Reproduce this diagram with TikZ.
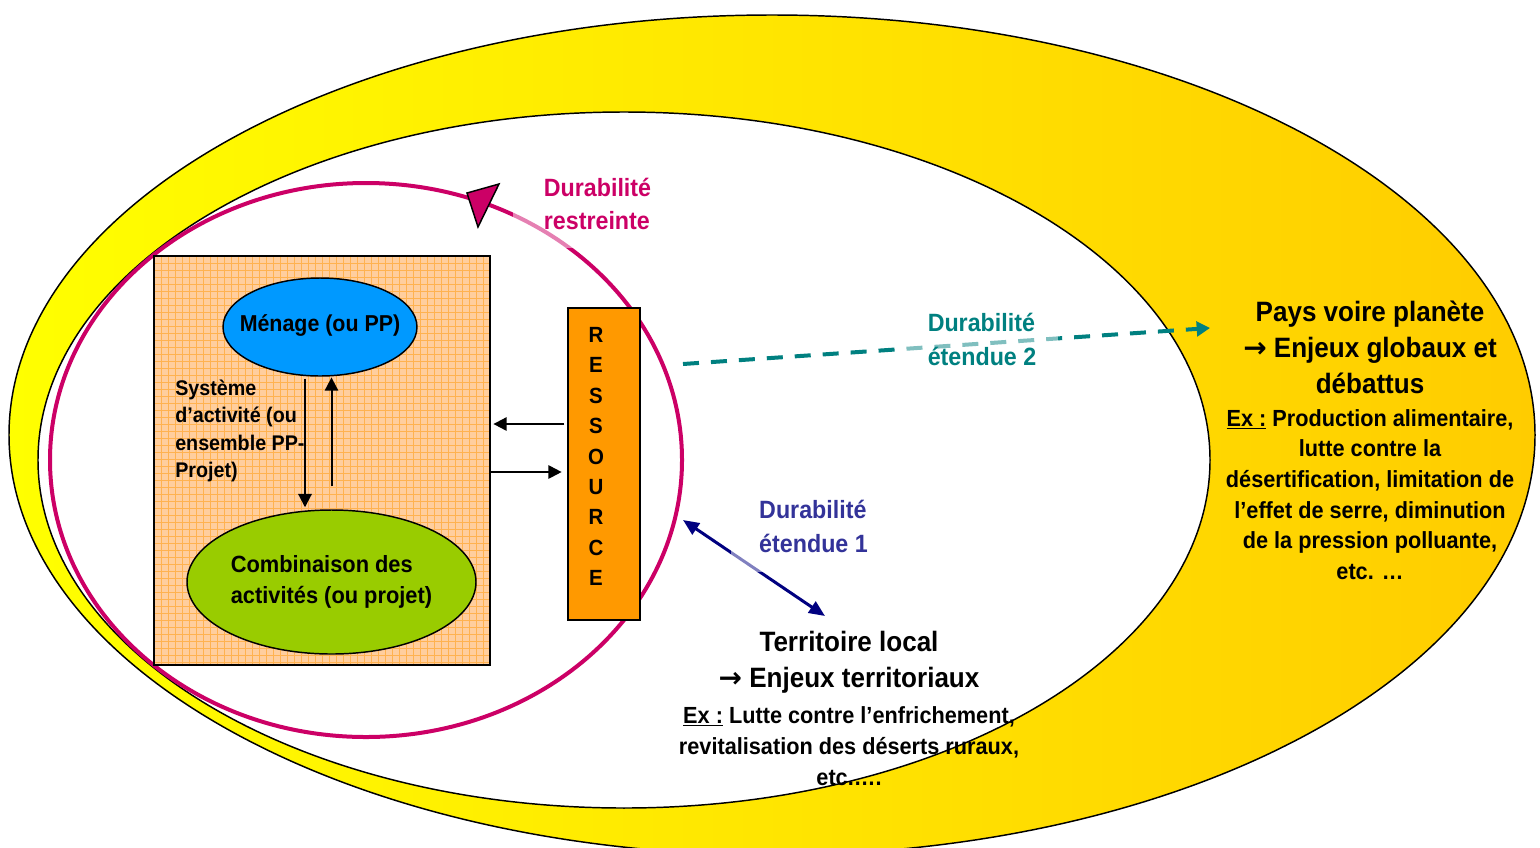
\documentclass[tikz,border=0pt]{standalone}
\usepackage{fontspec}
\setmainfont{Liberation Sans}[FakeStretch=0.93]
\newfontfamily\arrowfont{DejaVu Sans}
\usetikzlibrary{shapes.geometric,arrows.meta,calc}

\definecolor{durpink}{RGB}{204,0,102}
\definecolor{durteal}{RGB}{0,128,128}
\definecolor{durnavy}{RGB}{0,0,128}
\definecolor{durblue}{RGB}{51,51,153}
\definecolor{goldring}{RGB}{255,204,0}
\definecolor{menblue}{RGB}{0,153,255}
\definecolor{combgreen}{RGB}{153,204,0}
\definecolor{boxpeach}{RGB}{255,206,158}
\definecolor{boxgrid}{RGB}{255,178,80}
\definecolor{resorange}{RGB}{255,153,0}

\newcommand{\bigarrow}{{\arrowfont\bfseries →}}

\tikzset{
  txt/.style={inner sep=0pt, align=center},
  bigtitle/.style={txt, font=\fontsize{21pt}{27pt}\selectfont\bfseries},
  extext/.style={txt, font=\fontsize{17.5pt}{23pt}\selectfont\bfseries},
  durlabel/.style={align=left, fill=white, fill opacity=0.5, text opacity=1,
    font=\fontsize{18.75pt}{25pt}\selectfont\bfseries},
  blackarrow/.style={-{Triangle[length=10pt,width=10pt]}, line width=1.5pt, black},
  ringline/.style={draw=black, line width=1.1pt},
}

\begin{document}
\begin{tikzpicture}[x=0.75pt, y=-0.75pt]
  \useasboundingbox (0,0) rectangle (1540,847);
  \clip (0,0) rectangle (1540,847);

  % outer ring (pays / planete) and inner territory area
  \path[ringline, left color=yellow, right color=goldring]
    (772,435) ellipse [x radius=763, y radius=420];
  \path[ringline, fill=white] (624,460) ellipse [x radius=586, y radius=348];

  % restricted sustainability loop
  \node[ellipse, draw=durpink, line width=3pt, inner sep=0pt,
        minimum width=474pt, minimum height=415.5pt] (pe) at (366,460) {};
  \filldraw[fill=durpink, draw=black, line width=1.1pt, line join=miter]
    (467,193) -- (499,184) -- (478,227) -- cycle;

  % activity system box with grid texture
  \node[rectangle, draw=black, line width=1.1pt, fill=boxpeach, inner sep=0pt,
        minimum width=252pt, minimum height=306.75pt,
        path picture={
          \foreach \k in {1,...,48}
            \draw[boxgrid, line width=0.5pt]
              ([xshift=\k*5.25pt]path picture bounding box.north west) --
              ([xshift=\k*5.25pt]path picture bounding box.south west);
          \foreach \k in {1,...,59}
            \draw[boxgrid, line width=0.5pt]
              ([yshift=-\k*5.25pt]path picture bounding box.north west) --
              ([yshift=-\k*5.25pt]path picture bounding box.north east);
        }] (sys) at (322,460.5) {};

  \node[ellipse, draw=black, line width=1.1pt, fill=menblue, inner sep=0pt,
        minimum width=145.5pt, minimum height=73.5pt,
        label={[font=\fontsize{17.25pt}{21pt}\selectfont\bfseries, inner sep=0pt,
                yshift=1.5pt]center:Ménage (ou PP)}] (men) at (320,327) {};
  \node[ellipse, draw=black, line width=1.1pt, fill=combgreen, inner sep=0pt,
        minimum width=216.75pt, minimum height=108pt,
        label={[font=\fontsize{17.6pt}{23.25pt}\selectfont\bfseries, inner sep=0pt,
                align=left]center:Combinaison des\\activités (ou projet)}] (comb) at (331.5,582) {};

  \node[inner sep=0pt, anchor=west, align=left,
        font=\fontsize{15.9pt}{20.5pt}\selectfont\bfseries] (sysl) at (175,431)
        {Système\\d’activité (ou\\ensemble PP-\\Projet)};

  % links between household and activities
  \coordinate (down) at ([xshift=-11.25pt]men.south);
  \draw[blackarrow, shorten <=1.5pt, shorten >=1.5pt] (down) -- (down |- comb.north);
  \draw[blackarrow, shorten >=0.5pt] ([yshift=17.25pt]comb.north) -- (men.south -| comb.north);

  % resource
  \node[rectangle, draw=black, line width=1.5pt, fill=resorange, inner sep=0pt,
        minimum width=54pt, minimum height=234pt] (res) at (604,464) {};
  \node[txt, font=\fontsize{16.5pt}{22.8pt}\selectfont\bfseries] (resl) at (596,456.5)
        {R\\E\\S\\S\\O\\U\\R\\C\\E};

  \coordinate (rin) at ([yshift=30pt]res.west);
  \coordinate (rout) at ([yshift=-6pt]res.west);
  \draw[blackarrow, shorten <=2pt, shorten >=2pt] (rin) -- (rin -| sys.east);
  \draw[blackarrow, shorten <=0.5pt, shorten >=4pt] (rout -| sys.east) -- (rout);

  % extended sustainability links
  \coordinate (e2a) at (683,364);
  \coordinate (e2b) at (1210,328);
  \draw[durteal, line width=3pt, dash pattern=on 12pt off 9pt,
        -{Triangle[length=10pt,width=11pt]}] (e2a) -- (e2b);

  \coordinate (e1a) at (683,520);
  \coordinate (e1b) at (825,616);
  \draw[durnavy, line width=2.25pt,
        {Triangle[length=12pt,width=10pt]}-{Triangle[length=12pt,width=10pt]}]
        (e1a) -- (e1b);

  % labels of the three sustainability levels
  \node[durlabel, text=durpink, inner xsep=23pt, inner ysep=13.5pt] (dr) at (597.5,204)
        {Durabilité\\restreinte};
  \node[durlabel, text=durteal, inner xsep=16pt, inner ysep=3pt] (d2) at (982,339.5)
        {Durabilité\\étendue 2};
  \node[durlabel, text=durblue, inner xsep=21pt, inner ysep=15pt] (d1) at (813.5,526.5)
        {Durabilité\\étendue 1};

  % territorial and global scales
  \node[bigtitle] (terrT) at (849,662.5) {Territoire local\\\bigarrow\ Enjeux territoriaux};
  \node[extext] (terrE) at (849,746)
        {\underline{Ex :} Lutte contre l’enfrichement,\\revitalisation des déserts ruraux,\\etc.…. };
  \node[bigtitle] (paysT) at (1370,347)
        {Pays voire planète\\\bigarrow\ Enjeux globaux et\\débattus};
  \node[extext] (paysE) at (1370,494.5)
        {\underline{Ex :} Production alimentaire,\\lutte contre la\\désertification, limitation de\\l’effet de serre, diminution\\de la pression polluante,\\etc. …};
\end{tikzpicture}
\end{document}
